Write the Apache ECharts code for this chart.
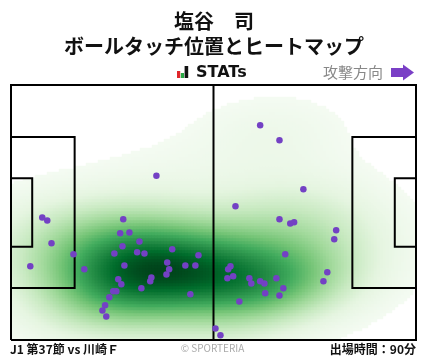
<!DOCTYPE html>
<html><head><meta charset="utf-8">
<script src="https://cdn.jsdelivr.net/npm/echarts@6/dist/echarts.min.js"></script>
<style>html,body{margin:0;padding:0;background:#fff}#c{width:428px;height:359px}</style>
</head><body><div id="c"></div>
<script>
// ---- data (pitch metres, x: 0..105 towards attack, y: 0..68 from bottom touchline)
const touchX = [8.1,9.4,10.5,16.2,5.0,19.0,37.7,29.1,28.3,30.7,33.3,28.9,26.8,32.7,34.6,41.8,48.6,29.4,40.5,41.0,40.3,45.2,47.8,27.8,28.6,36.4,36.1,33.8,26.5,27.3,46.5,25.5,24.4,23.7,24.7,53.0,54.3,64.6,69.6,75.8,58.2,69.6,72.4,73.4,84.3,83.8,71.1,56.9,56.3,56.1,57.6,61.8,62.3,64.6,65.7,68.8,70.6,65.9,69.6,59.2,82.0,81.0];
const touchY = [32.7,31.9,25.8,22.9,19.7,18.9,43.8,32.2,28.5,28.7,26.3,25.0,23.1,23.4,23.1,24.2,22.6,19.9,20.7,18.9,17.5,19.9,19.9,16.2,14.9,16.7,15.7,13.8,13.0,13.0,12.2,11.4,9.3,7.9,6.3,3.1,1.25,57.3,53.3,40.2,35.7,32.2,31.1,31.4,29.3,26.9,22.9,19.7,18.9,16.5,17.0,16.5,15.1,15.7,15.1,16.5,13.8,12.5,11.9,10.3,18.1,15.7];
const titleLines = ['塩谷　司', 'ボールタッチ位置とヒートマップ'];
const footerLeft = 'J1 第37節 vs 川崎Ｆ';
const footerRight = '出場時間：90分';
const credit = '© SPORTERIA';
const attackLabel = '攻撃方向';

const PL = 105, PW = 68;
const NX = 135, NY = 85;
const BW = 1.4, THRESH = 0.04;

// ---- KDE (gaussian, Scott bandwidth, full covariance) from touch points
const n = touchX.length;
let mx = 0, my = 0;
for (let i = 0; i < n; i++) { mx += touchX[i]; my += touchY[i]; }
mx /= n; my /= n;
let sxx = 0, syy = 0, sxy = 0;
for (let i = 0; i < n; i++) {
  const dx = touchX[i] - mx, dy = touchY[i] - my;
  sxx += dx * dx; syy += dy * dy; sxy += dx * dy;
}
sxx /= (n - 1); syy /= (n - 1); sxy /= (n - 1);
const f2 = Math.pow(Math.pow(n, -1 / 6) * BW, 2);
const a = sxx * f2, d = syy * f2, b = sxy * f2;
const det = a * d - b * b;
const i11 = d / det, i22 = a / det, i12 = -b / det;
const cw = PL / NX, ch = PW / NY;
const heat = [];
let maxV = 0;
const xCats = [], yCats = [];
for (let i = 0; i < NX; i++) xCats.push(i);
for (let j = 0; j < NY; j++) yCats.push(j);
for (let i = 0; i < NX; i++) {
  const x = (i + 0.5) * cw;
  for (let j = 0; j < NY; j++) {
    const y = (j + 0.5) * ch;
    let s = 0;
    for (let k = 0; k < n; k++) {
      const dx = x - touchX[k], dy = y - touchY[k];
      s += Math.exp(-0.5 * (dx * dx * i11 + 2 * dx * dy * i12 + dy * dy * i22));
    }
    heat.push([i, j, s]);
    if (s > maxV) maxV = s;
  }
}
const T = maxV * THRESH;
const heatData = heat.filter(v => v[2] >= T);

// ---- pitch markings (metres)
const pitchLines = [
  [[0,0],[PL,0],[PL,PW],[0,PW],[0,0]],
  [[PL/2,0],[PL/2,PW]],
  [[0,13.84],[16.5,13.84],[16.5,54.16],[0,54.16]],
  [[0,24.84],[5.5,24.84],[5.5,43.16],[0,43.16]],
  [[PL,13.84],[PL-16.5,13.84],[PL-16.5,54.16],[PL,54.16]],
  [[PL,24.84],[PL-5.5,24.84],[PL-5.5,43.16],[PL,43.16]]
];

const chart = echarts.init(document.getElementById('c'), null, {renderer: 'canvas'});
const JP = '"Noto Sans CJK JP", "Noto Sans", sans-serif';
const gridPos = {left: 11, right: 12, top: 85, bottom: 19};
chart.setOption({
  animation: false,
  backgroundColor: '#fff',
  grid: [Object.assign({}, gridPos), Object.assign({}, gridPos)],
  xAxis: [
    {type: 'value', min: 0, max: PL, show: false, gridIndex: 0},
    {type: 'category', data: xCats, show: false, gridIndex: 1}
  ],
  yAxis: [
    {type: 'value', min: 0, max: PW, show: false, gridIndex: 0},
    {type: 'category', data: yCats, show: false, gridIndex: 1}
  ],
  visualMap: {
    show: false, type: 'continuous', seriesIndex: 0, min: T, max: maxV,
    inRange: {color: ['#f4fbf2','#e5f5e0','#c7e9c0','#a1d99b','#74c476','#41ab5d','#238b45','#006d2c','#00441b']}
  },
  series: [
    {type: 'heatmap', xAxisIndex: 1, yAxisIndex: 1, data: heatData, progressive: 0, z: 1,
     itemStyle: {borderWidth: 0}, emphasis: {disabled: true}},
    {type: 'custom', xAxisIndex: 0, yAxisIndex: 0, data: [0], z: 2, silent: true,
     renderItem: function (params, api) {
       return {type: 'group', children: pitchLines.map(pl => ({
         type: 'polyline',
         shape: {points: pl.map(p => api.coord(p))},
         style: {stroke: '#000', lineWidth: 2, fill: null}
       }))};
     }},
    {type: 'scatter', xAxisIndex: 0, yAxisIndex: 0, z: 3, symbolSize: 6.5,
     itemStyle: {color: '#7341c4', opacity: 1},
     data: touchX.map((x, i) => [x, touchY[i]])}
  ],
  graphic: [
    {type: 'text', left: 'center', top: 11, style: {text: titleLines[0], font: 'bold 20px ' + JP, fill: '#111'}},
    {type: 'text', left: 'center', top: 36, style: {text: titleLines[1], font: 'bold 20px ' + JP, fill: '#111'}},
    {type: 'rect', shape: {x: 177, y: 71, width: 3.2, height: 7}, style: {fill: '#e0262b'}},
    {type: 'rect', shape: {x: 180.8, y: 73, width: 3.2, height: 5}, style: {fill: '#27a844'}},
    {type: 'rect', shape: {x: 184.6, y: 66, width: 3.6, height: 12}, style: {fill: '#111'}},
    {type: 'text', x: 196, y: 73, style: {text: 'STATs', font: 'bold 16px "DejaVu Sans", sans-serif', fill: '#111', verticalAlign: 'middle'}},
    {type: 'text', x: 383, y: 72, style: {text: attackLabel, font: '15px ' + JP, fill: '#888', align: 'right', verticalAlign: 'middle'}},
    {type: 'polygon', shape: {points: [[391,68],[403,68],[403,64.5],[414,72.5],[403,80.5],[403,77],[391,77]]}, style: {fill: '#7a3fc6'}},
    {type: 'text', x: 10, y: 349, style: {text: footerLeft, font: 'bold 12px ' + JP, fill: '#111', verticalAlign: 'middle'}},
    {type: 'text', x: 212.5, y: 348, style: {text: credit, font: '10px ' + JP, fill: '#aaa', align: 'center', verticalAlign: 'middle'}},
    {type: 'text', x: 416, y: 349, style: {text: footerRight, font: 'bold 12px ' + JP, fill: '#111', align: 'right', verticalAlign: 'middle'}}
  ]
});
</script>
</body></html>
